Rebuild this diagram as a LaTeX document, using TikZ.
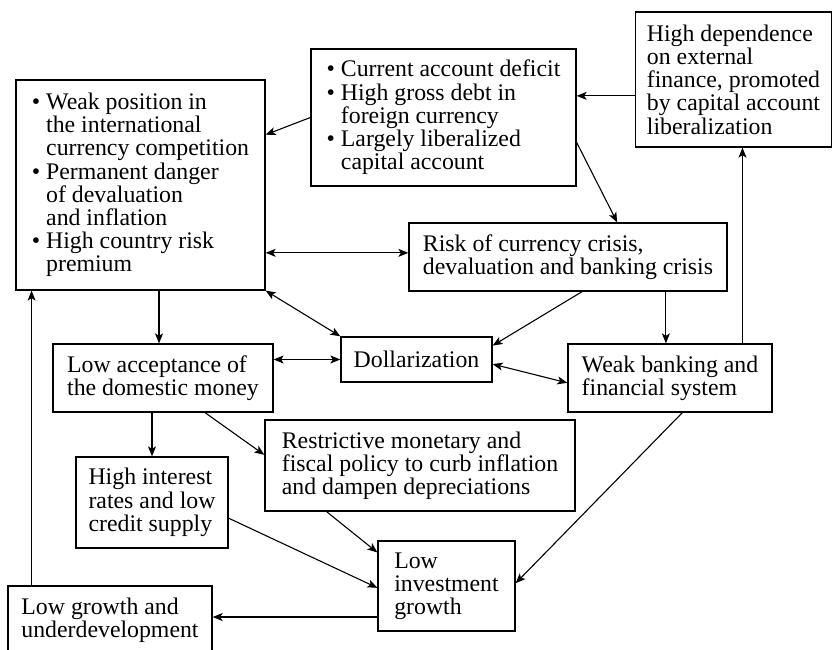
\documentclass[tikz,border=0pt]{standalone}
\usepackage{fontspec}
\setmainfont{Liberation Serif}
\usetikzlibrary{arrows.meta,calc}
\newcommand{\hang}{\phantom{\textbullet\ }}
\begin{document}
\begin{tikzpicture}[x=1pt,y=-1pt,
  box/.style={draw, line width=1.3pt, inner sep=3pt, align=left,
    font=\fontsize{23.8}{23.2}\selectfont},
  tip/.tip={Stealth[length=10pt,width=8pt,inset=2.5pt]},
  arr/.style={-tip, line width=1.1pt},
  dbl/.style={tip-tip, line width=1.1pt}]
\useasboundingbox (0,0) rectangle (833,650);
\clip (0,0) rectangle (833,650);

% boxes
\node[box, minimum width=249, minimum height=210] (A) at (140.5,185)
  {\textbullet\ Weak position in\\\hang the international\\\hang currency competition\\
   \textbullet\ Permanent danger\\\hang of devaluation\\\hang and inflation\\
   \textbullet\ High country risk\\\hang premium};
\node[box, minimum width=265, minimum height=137] (B) at (443.5,117.5)
  {\textbullet\ Current account deficit\\\textbullet\ High gross debt in\\\hang foreign currency\\
   \textbullet\ Largely liberalized\\\hang capital account};
\node[box, minimum width=196, minimum height=135] (C) at (733.5,79.5)
  {High dependence\\on external\\finance, promoted\\by capital account\\liberalization};
\node[box, minimum width=318, minimum height=68] (D) at (568,257)
  {Risk of currency crisis,\\devaluation and banking crisis};
\node[box, minimum width=151, minimum height=45] (E) at (416.5,359.5)
  {Dollarization};
\node[box, minimum width=220, minimum height=68] (F) at (163,378)
  {Low acceptance of\\the domestic money};
\node[box, minimum width=204, minimum height=68] (G) at (670,378)
  {Weak banking and\\financial system};
\node[box, minimum width=310, minimum height=91] (H) at (420,465.5)
  {Restrictive monetary and\\fiscal policy to curb inflation\\and dampen depreciations};
\node[box, minimum width=152, minimum height=91] (I) at (152,502.5)
  {High interest\\rates and low\\credit supply};
\node[box, minimum width=137, minimum height=90] (J) at (446.5,586)
  {Low\\investment\\growth};
\node[box, minimum width=204, minimum height=68] (K) at (110,620)
  {Low growth and\\underdevelopment};

% connectors
\coordinate (c1) at ($(C.north west)!0.62!(C.south west)$);
\draw[arr] (c1) -- (c1 -| B.east);
\draw[arr] (B.west) -- ($(A.north east)!0.262!(A.south east)$);
\draw[arr] ($(B.north east)!0.68!(B.south east)$) -- ($(D.north west)!0.654!(D.north east)$);
\coordinate (d1) at ($(D.north west)!0.44!(D.south west)$);
\draw[dbl] (d1 -| A.east) -- (d1);
\coordinate (f1) at ($(F.north west)!0.482!(F.north east)$);
\draw[arr] (f1 |- A.south) -- (f1);
\draw[dbl] (A.south east) -- (E.north west);
\draw[dbl] (E.west -| F.east) -- (E.west);
\draw[arr] ($(D.south west)!0.544!(D.south east)$) -- ($(E.north east)!0.2!(E.south east)$);
\coordinate (g1) at ($(G.north west)!0.48!(G.north east)$);
\draw[arr] (g1 |- D.south) -- (g1);
\draw[dbl] ($(E.north east)!0.6!(E.south east)$) -- ($(G.north west)!0.57!(G.south west)$);
\coordinate (g2) at ($(G.north west)!0.853!(G.north east)$);
\draw[arr] (g2) -- (g2 |- C.south);
\draw[arr] (I.north |- F.south) -- (I.north);
\draw[arr] ($(F.south west)!0.69!(F.south east)$) -- ($(H.north west)!0.385!(H.south west)$);
\draw[arr] ($(H.south west)!0.2!(H.south east)$) -- ($(J.north west)!0.133!(J.south west)$);
\draw[arr] ($(I.north east)!0.67!(I.south east)$) -- ($(J.north west)!0.52!(J.south west)$);
\draw[arr] ($(G.south west)!0.56!(G.south east)$) -- ($(J.north east)!0.47!(J.south east)$);
\coordinate (j1) at ($(J.north west)!0.84!(J.south west)$);
\draw[arr] (j1) -- (j1 -| K.east);
\coordinate (k1) at ($(K.north west)!0.118!(K.north east)$);
\draw[arr] (k1) -- (k1 |- A.south);
\end{tikzpicture}
\end{document}
